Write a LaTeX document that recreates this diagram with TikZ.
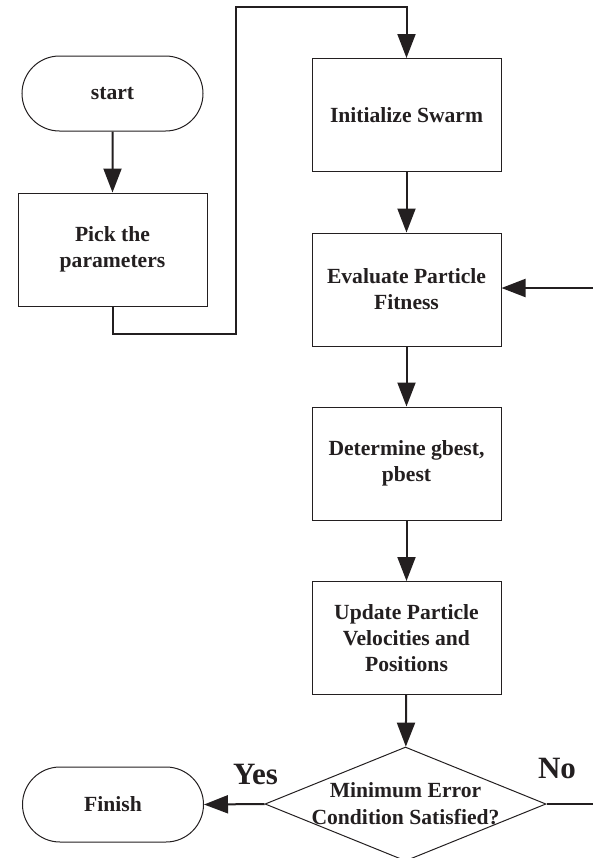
\documentclass[tikz,border=0pt]{standalone}
\usepackage{fontspec}
\setmainfont{Liberation Serif}
\usetikzlibrary{arrows.meta,shapes.geometric,shapes.misc}
\definecolor{inkline}{HTML}{231F20}
\begin{document}
\begin{tikzpicture}[x=0.5pt,y=-0.5pt,
        box/.style={draw=inkline,line width=0.5pt,rectangle,minimum width=94.5pt,minimum height=56.5pt,
            inner sep=2pt,align=center,font=\fontsize{10.8}{12.9}\selectfont\bfseries,text=inkline},
        terminal/.style={draw=inkline,line width=0.5pt,rounded rectangle,minimum width=94.5pt,minimum height=37.5pt,
            inner sep=2pt,font=\fontsize{10.8}{12.9}\selectfont\bfseries,text=inkline},
        decision/.style={draw=inkline,line width=0.5pt,diamond,minimum width=140.5pt,minimum height=57pt,inner sep=0pt},
        flow/.style={draw=inkline,line width=1pt,-{Triangle[length=12pt,width=9pt]}},
        plain/.style={draw=inkline,line width=1pt},
        answer/.style={font=\fontsize{15.5}{18}\selectfont\bfseries,text=inkline}]
        \useasboundingbox (0,0) rectangle (593,858);

        % Left column
        \node[terminal] (start) at (112.5,93.5) {start};
        \node[box] (pick) at (112.5,249.5) {Pick the\\parameters};

        % Right column
        \node[box] (init) at (406.5,115) {Initialize Swarm};
        \node[box] (eval) at (406.5,289.5) {Evaluate Particle\\Fitness};
        \node[box] (det) at (406.5,463.5) {Determine gbest,\\pbest};
        \node[box] (upd) at (406.5,638) {Update Particle\\Velocities and\\Positions};
        \node[decision,label={[align=center,font=\fontsize{10.8}{13.5}\selectfont\bfseries,text=inkline]center:Minimum Error\\Condition Satisfied?}] (cond) at (405.5,804) {};

        % Exit
        \node[terminal] (finish) at (113,804.5) {Finish};
        \node[answer] (yes) at (255.5,774) {Yes};
        \node[answer] (no) at (557,768) {No};

        % Bends and free ends
        \coordinate (bendlow) at (236,334);
        \coordinate (bendtop) at (236,7);
        \coordinate (noend) at (593,804);
        \coordinate (loopin) at (593,288);

        % Connectors
        \draw[flow] (start) -- (pick);
        \draw[flow] (pick.south) |- (bendlow) -- (bendtop) -| (init.north);
        \draw[flow] (init) -- (eval);
        \draw[flow] (eval) -- (det);
        \draw[flow] (det) -- (upd);
        \draw[flow] (upd) -- (cond);
        \draw[flow] (cond.west) -- (finish.east);
        \draw[plain] (cond.east) -- (noend);
        \draw[flow] (loopin) -- (loopin -| eval.east);
    \end{tikzpicture}
\end{document}
